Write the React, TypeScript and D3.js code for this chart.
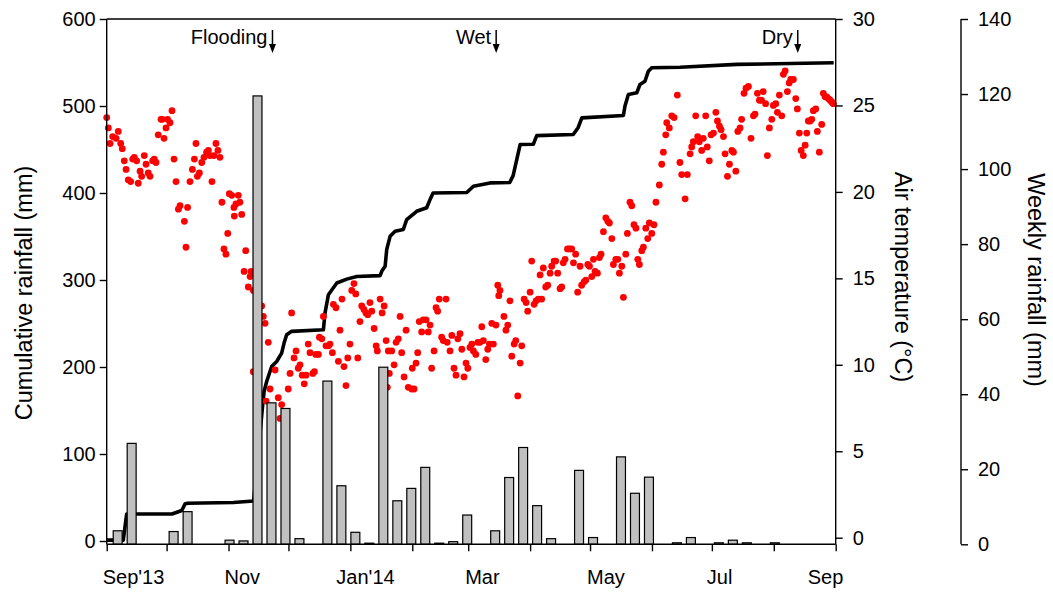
import React, { useRef, useEffect } from 'react';
import * as d3 from 'd3';

const FONT = '"Liberation Sans", Arial, Helvetica, sans-serif';
const DAY = 86400000;
const START = Date.UTC(2013, 8, 1);
const END = Date.UTC(2014, 8, 1);

// Weekly rainfall (mm), one value per week, first week starting 3 Sep 2013
const firstWeek = new Date(Date.UTC(2013, 8, 3));
const weeklyRain = [
  3.6, 26.9, 0, 0, 3.4, 8.7, 0, 0, 1.1, 0.9,
  119.5, 37.7, 36.2, 1.5, 0, 43.5, 15.6, 3.2, 0.3, 47.2,
  11.6, 14.9, 20.5, 0.3, 0.7, 7.8, 0, 3.6, 17.8, 25.8,
  10.3, 1.5, 0, 19.7, 1.8, 0, 23.3, 13.6, 17.9, 0,
  0.4, 1.8, 0, 0.4, 1.1, 0.4, 0, 0.4, 0, 0, 0, 0,
];

// Cumulative rainfall (mm): [days since 1 Sep 2013, mm]
const cumulativeRain: [number, number][] = [
  [0, 1], [8.3, 1], [10, 31], [32.7, 31], [37.6, 35], [39.2, 42.6], [40.4, 43.4],
  [63.4, 44.3], [73.6, 46], [78.1, 156.5], [78.8, 171.8], [80.1, 183.3], [82.6, 200.6],
  [85.1, 206.3], [87.6, 216], [88.8, 227.5], [90.1, 237], [92.6, 241], [108.5, 242.8],
  [109.3, 262], [111, 283], [115.2, 296.5], [120.2, 301], [125.2, 304], [136.9, 305],
  [137.7, 310], [139.4, 315.7], [140.2, 335], [141.9, 350.2], [144.4, 356], [148.5, 358],
  [150.2, 369.4], [155.2, 379], [160.2, 383], [161.9, 392.4], [163.4, 400], [180.3, 400.5],
  [183.6, 407.7], [191.9, 411.6], [201.8, 412], [203.5, 420], [207, 455.7], [213.6, 456],
  [215.3, 466], [233.6, 467.2], [236, 475], [237.9, 486.4], [258.7, 489], [259.5, 500],
  [261.2, 513.2], [265.4, 515.2], [267, 524.7], [269.5, 528.5], [271.2, 540], [272.9, 544],
  [287.1, 544.5], [315.5, 547.8], [364, 549.7],
];

// Air temperature (°C): [days since 1 Sep 2013, °C]
const airTemp: [number, number][] = [
  [0, 24.3], [0.8, 23.7], [1.7, 22.8], [3, 23.2], [4.7, 23.1], [5.8, 23.5], [7, 22.8], [7.8, 22.5],
  [8.8, 21.8], [9.7, 21.3], [10.8, 20.7], [12, 20.6], [13, 21.9], [13.8, 22.0], [15, 21.8], [15.8, 20.5],
  [16.7, 21.2], [17.5, 20.9], [18.8, 22.1], [19.7, 21.6], [20.8, 21.1], [21.7, 20.9], [23, 21.8], [23.8, 21.9],
  [24.7, 21.7], [25.8, 23.3], [27.2, 24.2], [27.8, 24.2], [28.7, 23.1], [29.7, 23.7], [30.5, 24.2], [31.7, 24.0],
  [32.7, 24.7], [33.7, 21.9], [34.7, 20.6], [35.9, 19.0], [36.7, 19.2], [38.9, 18.3], [39.7, 16.8], [40.5, 19.1],
  [41.7, 20.6], [42.9, 21.3], [43.9, 21.9], [44.7, 22.8], [45.4, 20.9], [46.4, 21.1], [47.6, 21.7], [48.7, 22.0],
  [50, 22.3], [50.9, 22.4], [51.7, 22.1], [52.7, 20.6], [53.7, 22.1], [54.7, 22.8], [55.7, 22.4], [56.7, 22.0],
  [57.7, 19.4], [58.7, 16.7], [59.7, 16.4], [60.6, 17.6], [61.4, 19.9], [62.6, 19.8], [63.7, 19.1], [63.9, 18.6],
  [64.7, 19.3], [65.9, 19.8], [66.7, 19.4], [67.6, 18.7], [68.8, 15.4], [69.6, 16.6], [70.9, 14.5], [71.8, 15.1],
  [72.3, 15.4], [73.4, 14.3], [73.4, 9.6], [77.6, 13.4], [78.4, 12.8], [79.3, 12.4], [79.8, 7.9], [80.9, 11.3],
  [81.8, 8.6], [84.3, 9.7], [85.9, 8.1], [86.8, 6.9], [87.6, 7.7], [90.9, 8.6], [91.8, 9.5], [92.6, 13.0],
  [93.8, 10.4], [94.8, 10.8], [95.9, 9.8], [96.8, 10.0], [97.9, 9.4], [98.9, 8.9], [99.8, 9.4], [100.9, 11.2],
  [101.8, 10.7], [103.2, 9.5], [104, 9.6], [104.7, 10.6], [106, 10.6], [106.5, 11.6], [107.7, 11.5], [108.5, 12.8],
  [109.8, 11.1], [111, 11.1], [111.8, 11.2], [113, 10.7], [113.5, 13.5], [114.8, 13.3], [116, 10.2], [116.8, 12.0],
  [117.8, 13.8], [118.8, 9.9], [119.8, 8.8], [120.7, 10.4], [121.8, 11.2], [122.7, 14.3], [123.8, 14.7], [124.7, 14.1],
  [125.7, 10.4], [126.8, 12.5], [127.7, 13.4], [128.8, 13.2], [129.8, 13.0], [130.7, 12.9], [131.8, 13.6], [132.7, 13.1],
  [133.9, 12.1], [134.9, 11.1], [135.5, 10.8], [136.9, 13.8], [137.9, 13.0], [138.9, 13.4], [139.9, 11.4], [140.5, 8.7],
  [141, 10.8], [141.5, 9.5], [142.7, 10.8], [143.9, 10.0], [144.9, 11.3], [146, 11.5], [146.9, 12.8], [147.7, 10.7],
  [148.9, 9.3], [149.9, 12.0], [151, 8.7], [152.7, 8.6], [153, 9.8], [153.9, 8.6], [154.9, 10.1], [155.7, 10.7],
  [156.5, 12.5], [157.7, 11.9], [158.5, 12.6], [159.9, 12.6], [161, 11.9], [161.9, 12.3], [162.7, 9.8], [163.9, 10.8],
  [164.9, 13.3], [165.7, 13.1], [166.5, 13.8], [167.7, 11.6], [168.5, 11.4], [169.9, 13.8], [170.5, 11.3], [171.9, 10.8],
  [172.8, 11.7], [173.9, 9.8], [174.9, 9.4], [175.8, 11.5], [176.9, 11.8], [177.8, 10.9], [178.9, 9.3], [179.9, 10.1],
  [180.8, 9.8], [181.9, 11.0], [182.8, 11.2], [183.6, 10.8], [184.8, 10.6], [185.8, 11.3], [186.9, 11.3], [187.8, 12.2],
  [188.6, 11.4], [189.8, 10.3], [190.8, 10.9], [191.6, 11.2], [192.8, 12.4], [193.6, 11.2], [194.9, 12.3], [195.8, 14.6],
  [196.3, 14.0], [196.9, 14.3], [198.9, 12.8], [199.9, 12.0], [200.8, 12.3], [201.9, 13.7], [202.8, 10.5], [204, 11.2],
  [204.8, 11.4], [205.8, 8.2], [207, 10.1], [207.8, 11.1], [209, 13.8], [210, 13.6], [210.8, 13.1], [212, 14.2],
  [212.8, 16.0], [214, 13.5], [215, 13.7], [216.1, 13.8], [217, 15.2], [217.8, 13.8], [218.6, 15.6], [219.8, 14.5],
  [220.8, 14.6], [222, 15.3], [222.8, 15.7], [224, 16.0], [224.8, 16.0], [225.8, 15.3], [227, 14.4], [227.8, 14.5],
  [228.6, 15.9], [229.5, 16.1], [230.7, 16.7], [231.7, 16.7], [232.8, 16.7], [233.7, 15.9], [234.8, 16.4], [235.8, 14.2],
  [237, 15.7], [237.8, 14.6], [239, 14.8], [239.9, 14.9], [240.9, 15.8], [241.7, 15.7], [242.9, 15.1], [243.7, 16.1],
  [244.5, 15.4], [245.7, 15.3], [246.7, 16.2], [247.5, 16.4], [248.7, 17.7], [249.9, 18.5], [250.9, 18.3], [251.7, 18.2],
  [252.9, 17.3], [253.7, 15.8], [254.9, 16.1], [255.9, 16.1], [256.7, 15.3], [257.9, 15.7], [258.7, 13.9], [259.9, 16.4],
  [260.7, 17.6], [262, 19.4], [262.9, 19.2], [264, 18.1], [265, 17.9], [265.9, 16.1], [266.7, 15.8], [267.9, 16.6],
  [268.7, 16.8], [269.9, 17.9], [270.9, 17.3], [271.7, 18.2], [272.9, 17.6], [274, 18.1], [275, 19.4], [276.7, 20.4],
  [277.9, 21.6], [278.7, 22.3], [279.9, 23.3], [280.4, 24.0], [281.7, 23.7], [282.9, 24.4], [284.1, 24.3], [285.7, 25.6],
  [287, 21.7], [287.9, 21.0], [289.6, 19.6], [290.7, 21.0], [292.1, 22.2], [292.9, 22.6], [293.7, 22.9], [294.9, 24.4],
  [295.9, 23.2], [296.7, 22.9], [297.9, 22.4], [298.7, 23.1], [299.9, 24.4], [300.7, 22.6], [301.7, 21.8], [302.6, 23.3],
  [303.8, 23.4], [305, 24.6], [305.8, 24.1], [306.8, 23.8], [307.6, 23.6], [308.8, 23.2], [309.6, 22.2], [310.8, 20.9],
  [311.8, 21.6], [313, 22.4], [313.8, 22.3], [315, 21.2], [316, 23.5], [317.1, 23.7], [317.9, 24.2], [319.1, 25.7],
  [320.1, 26.0], [321.3, 26.1], [322.6, 23.1], [323.8, 24.4], [324.6, 24.5], [325.8, 25.7], [326.8, 25.3], [327.9, 25.3],
  [328.7, 25.8], [329.9, 25.1], [330.8, 22.1], [331.8, 23.7], [333, 24.2], [333.8, 25.0], [335, 25.1], [335.8, 24.6],
  [336.8, 25.6], [338, 24.4], [338.8, 26.8], [339.7, 27.0], [340.8, 25.8], [341.7, 26.3], [342.5, 26.5], [343.8, 26.5],
  [345, 25.4], [345.8, 24.8], [346.8, 23.4], [347.7, 22.4], [348.8, 22.1], [349.7, 22.7], [350.5, 23.4], [351.3, 24.1],
  [352.2, 24.1], [353, 24.2], [353.8, 24.7], [355, 24.8], [355.8, 23.5], [356.8, 22.3], [358, 23.9], [358.8, 25.7],
  [359.7, 25.5], [360.5, 25.5], [361.3, 25.4], [362.2, 25.3], [363, 25.2], [363.8, 25.1],
];

const cumTicks = [0, 100, 200, 300, 400, 500, 600];
const tempTicks = [0, 5, 10, 15, 20, 25, 30];
const weekTicks = [0, 20, 40, 60, 80, 100, 120, 140];
const monthLabels = ["Sep'13", 'Nov', "Jan'14", 'Mar', 'May', 'Jul', 'Sep'];
// small hand offsets of the month labels from their tick (px)
const monthLabelDx = [-4, -4, -14, -3, -3, -5, -28];

const events = [
  { label: 'Flooding', date: Date.UTC(2013, 10, 23) },
  { label: 'Wet', date: Date.UTC(2014, 2, 15) },
  { label: 'Dry', date: Date.UTC(2014, 7, 13) },
];

const W = 1053;
const H = 592;
const plot = { left: 106.7, right: 835.7, top: 19, bottom: 544.3 };
const weekAxisX = 961;

export default function App() {
  const svgRef = useRef<SVGSVGElement>(null);

  useEffect(() => {
    if (!svgRef.current) return;
    const svg = d3.select(svgRef.current);
    svg.selectAll('*').remove();

    const toDate = (d: number) => new Date(START + d * DAY);

    const x = d3.scaleUtc()
      .domain([new Date(START), new Date(END)])
      .range([plot.left, plot.right]);
    const yCum = d3.scaleLinear().domain([0, 600]).range([541, plot.top]);
    const yTemp = d3.scaleLinear().domain([0, 30]).range([537.7, plot.top]);
    const yWeek = d3.scaleLinear().domain([0, 140]).range([plot.bottom, plot.top]);

    // Cumulative rainfall line
    const line = d3.line<[number, number]>()
      .x(d => x(toDate(d[0])))
      .y(d => yCum(d[1]));

    svg.append('path')
      .datum(cumulativeRain)
      .attr('d', line)
      .attr('fill', 'none')
      .attr('stroke', '#000')
      .attr('stroke-width', 3.6)
      .attr('stroke-linejoin', 'round');

    // Air temperature dots
    svg.append('g')
      .selectAll('circle')
      .data(airTemp)
      .join('circle')
      .attr('cx', d => x(toDate(d[0])))
      .attr('cy', d => yTemp(d[1]))
      .attr('r', 3.4)
      .attr('fill', '#ff0000');

    // Weekly rainfall bars
    const weekPx = x(d3.utcDay.offset(firstWeek, 7)) - x(firstWeek);
    const bw = weekPx * 0.64;
    const bars = weeklyRain
      .map((v, i) => ({ v, start: d3.utcDay.offset(firstWeek, 7 * i) }))
      .filter(d => d.v > 0);

    svg.append('g')
      .selectAll('rect')
      .data(bars)
      .join('rect')
      .attr('x', d => x(d3.utcHour.offset(d.start, 84)) - bw / 2)
      .attr('width', bw)
      .attr('y', d => yWeek(d.v))
      .attr('height', d => yWeek(0) - yWeek(d.v))
      .attr('fill', '#c0c0c0')
      .attr('stroke', '#000')
      .attr('stroke-width', 1.2);

    // Frame + separate weekly axis line
    const frame = svg.append('g').attr('stroke', '#000').attr('stroke-width', 1.4);
    frame.append('line').attr('x1', plot.left).attr('x2', plot.left).attr('y1', plot.top).attr('y2', plot.bottom);
    frame.append('line').attr('x1', plot.right).attr('x2', plot.right).attr('y1', plot.top).attr('y2', plot.bottom);
    frame.append('line').attr('x1', plot.left).attr('x2', plot.right).attr('y1', plot.top).attr('y2', plot.top);
    frame.append('line').attr('x1', plot.left).attr('x2', plot.right).attr('y1', plot.bottom).attr('y2', plot.bottom);
    frame.append('line').attr('x1', weekAxisX).attr('x2', weekAxisX).attr('y1', plot.top).attr('y2', plot.bottom);

    const styleAxis = (g: d3.Selection<SVGGElement, unknown, null, undefined>) => {
      g.select('.domain').remove();
      g.attr('font-family', FONT).attr('font-size', 20);
      g.selectAll('line').attr('stroke', '#000').attr('stroke-width', 1.4);
      g.selectAll('text').attr('fill', '#000');
    };

    // Left axis: cumulative rainfall
    svg.append('g')
      .attr('transform', `translate(${plot.left},0)`)
      .call(d3.axisLeft(yCum).tickValues(cumTicks).tickSize(7).tickPadding(4))
      .call(styleAxis);

    // Right axis: air temperature
    svg.append('g')
      .attr('transform', `translate(${plot.right},0)`)
      .call(d3.axisRight(yTemp).tickValues(tempTicks).tickSize(7).tickPadding(10))
      .call(styleAxis);

    // Outer right axis: weekly rainfall
    svg.append('g')
      .attr('transform', `translate(${weekAxisX},0)`)
      .call(d3.axisRight(yWeek).tickValues(weekTicks).tickSize(7).tickPadding(10))
      .call(styleAxis);

    // Bottom axis: monthly ticks, labels every other month
    const months = d3.utcMonth.range(new Date(START), new Date(END + DAY));
    svg.append('g')
      .attr('transform', `translate(0,${plot.bottom})`)
      .call(d3.axisBottom(x).tickValues(months).tickSize(7).tickFormat(() => ''))
      .call(styleAxis);

    svg.append('g')
      .selectAll('text')
      .data(months.filter((_, i) => i % 2 === 0))
      .join('text')
      .attr('x', (d, i) => x(d) + monthLabelDx[i])
      .attr('y', 584)
      .attr('font-family', FONT)
      .attr('font-size', 20)
      .text((_, i) => monthLabels[i]);

    // Axis titles
    svg.append('text')
      .attr('transform', 'translate(24,293) rotate(-90)')
      .attr('text-anchor', 'middle')
      .attr('dy', '0.35em')
      .attr('font-family', FONT)
      .attr('font-size', 23.5)
      .text('Cumulative rainfall (mm)');

    svg.append('text')
      .attr('transform', 'translate(903,277) rotate(90)')
      .attr('text-anchor', 'middle')
      .attr('dy', '0.35em')
      .attr('font-family', FONT)
      .attr('font-size', 23.5)
      .text('Air temperature (°C)');

    svg.append('text')
      .attr('transform', 'translate(1036,280) rotate(90)')
      .attr('text-anchor', 'middle')
      .attr('dy', '0.35em')
      .attr('font-family', FONT)
      .attr('font-size', 23.5)
      .text('Weekly rainfall (mm)');

    // Event markers
    const ev = svg.append('g')
      .selectAll('g')
      .data(events)
      .join('g')
      .attr('transform', d => `translate(${x(new Date(d.date))},0)`);

    ev.append('text')
      .attr('x', -5)
      .attr('y', 44)
      .attr('text-anchor', 'end')
      .attr('font-family', FONT)
      .attr('font-size', 20)
      .text(d => d.label);

    ev.append('line')
      .attr('y1', 30)
      .attr('y2', 46)
      .attr('stroke', '#000')
      .attr('stroke-width', 1.5);

    ev.append('path')
      .attr('d', 'M-3.5,44 L3.5,44 L0,53 Z')
      .attr('fill', '#000');
  }, []);

  return (
    <svg
      ref={svgRef}
      width={W}
      height={H}
      viewBox={`0 0 ${W} ${H}`}
      style={{ position: 'absolute', left: 0, top: 0, background: '#fff' }}
    />
  );
}
